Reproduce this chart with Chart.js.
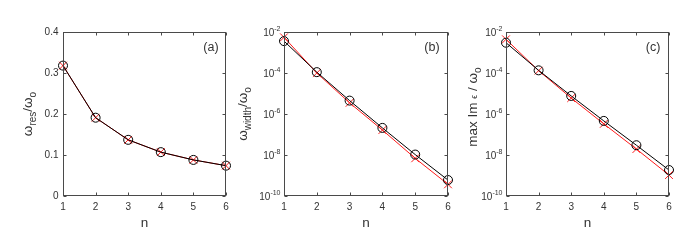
<!DOCTYPE html>
<html>
<head>
<meta charset="utf-8">
<script src="https://cdn.jsdelivr.net/npm/chart.js@4"></script>
<style>
  body { margin: 0; background: #fff; }
  #wrap { position: relative; width: 698px; height: 244px; background: #fff; }
  canvas { position: absolute; top: 0; }
</style>
</head>
<body>
<div id="wrap">
  <canvas id="ca" width="232" height="244" style="left:0px"></canvas>
  <canvas id="cb" width="222" height="244" style="left:232px"></canvas>
  <canvas id="cc" width="244" height="244" style="left:454px"></canvas>
</div>
<script>
// data
const nValues = [1, 2, 3, 4, 5, 6];
const resBlack = [0.318, 0.191, 0.137, 0.107, 0.088, 0.074];
const resRed = [0.318, 0.191, 0.137, 0.107, 0.088, 0.074];
const widthBlack = [3.6e-3, 1.1e-4, 4.5e-6, 2.1e-7, 1.05e-8, 6.0e-10];
const widthRed = [5.5e-3, 1.0e-4, 3.5e-6, 1.65e-7, 6.9e-9, 3.7e-10];
const imBlack = [3.0e-3, 1.35e-4, 7.6e-6, 4.6e-7, 3.0e-8, 1.85e-9];
const imRed = [4.4e-3, 1.3e-4, 6.0e-6, 3.3e-7, 1.95e-8, 1.05e-9];

// ticks
const xTicks = [1, 2, 3, 4, 5, 6];
const linTicks = [0, 0.1, 0.2, 0.3, 0.4];
const linTickLabels = ['0', '0.1', '0.2', '0.3', '0.4'];
const logTicks = [1e-10, 1e-8, 1e-6, 1e-4, 1e-2];
const logTickExps = ['-10', '-8', '-6', '-4', '-2'];

const FONT = "'Liberation Sans', Arial, sans-serif";
const TXT = '#333';

function font(sz) { return sz + 'px ' + FONT; }

// draws a run of [text, size, dy] pieces starting at x (baseline y)
function drawRun(ctx, pieces, x, y) {
  pieces.forEach(p => {
    ctx.font = font(p[1]);
    ctx.fillText(p[0], x, y + (p[2] || 0));
    x += ctx.measureText(p[0]).width;
  });
}
function runWidth(ctx, pieces) {
  let w = 0;
  pieces.forEach(p => { ctx.font = font(p[1]); w += ctx.measureText(p[0]).width; });
  return w;
}

const frame = {
  id: 'frame',
  afterDraw(chart, args, o) {
    const { ctx, chartArea: a, scales: { x, y } } = chart;
    const L = Math.round(a.left) + 0.5, R = Math.round(a.right) - 0.5;
    const T = Math.round(a.top) + 0.5, B = Math.round(a.bottom) - 0.5;
    ctx.save();
    ctx.strokeStyle = '#4a4a4a';
    ctx.lineWidth = 1;
    ctx.strokeRect(L, T, R - L, B - T);
    ctx.beginPath();
    xTicks.forEach(v => {
      const px = Math.round(x.getPixelForValue(v)) + 0.5;
      ctx.moveTo(px, B); ctx.lineTo(px, B - 3);
      ctx.moveTo(px, T); ctx.lineTo(px, T + 3);
    });
    const yt = o.log ? logTicks : linTicks;
    yt.forEach(v => {
      const py = Math.round(y.getPixelForValue(v)) + 0.5;
      ctx.moveTo(L, py); ctx.lineTo(L + 3, py);
      ctx.moveTo(R, py); ctx.lineTo(R - 3, py);
    });
    ctx.stroke();

    ctx.fillStyle = TXT;
    // x tick labels
    ctx.font = font(10);
    ctx.textAlign = 'center';
    ctx.textBaseline = 'middle';
    xTicks.forEach(v => ctx.fillText(String(v), x.getPixelForValue(v), B + 12));
    // y tick labels
    if (o.log) {
      ctx.textAlign = 'left';
      ctx.textBaseline = 'alphabetic';
      logTicks.forEach((v, i) => {
        const pieces = [['10', 10, 0], [logTickExps[i], 7, -5]];
        const w = runWidth(ctx, pieces);
        drawRun(ctx, pieces, L - 4 - w, y.getPixelForValue(v) + 4);
      });
    } else {
      ctx.textAlign = 'right';
      linTicks.forEach((v, i) => ctx.fillText(linTickLabels[i], L - 5, y.getPixelForValue(v)));
    }
    // x title
    ctx.font = font(13.5);
    ctx.textAlign = 'center';
    ctx.textBaseline = 'alphabetic';
    ctx.fillText('n', (L + R) / 2, 227);
    // panel label
    ctx.font = font(12.5);
    ctx.fillText(o.tag, o.tagX, 51);
    // y title, rotated
    ctx.translate(o.titleX, o.titleY);
    ctx.rotate(-Math.PI / 2);
    ctx.textAlign = 'left';
    const w = runWidth(ctx, o.title);
    drawRun(ctx, o.title, -w / 2, 0);
    ctx.restore();
  }
};

function makePanel(id, black, red, yOpts, left, right, fr) {
  new Chart(document.getElementById(id), {
    type: 'line',
    data: {
      datasets: [
        {
          data: nValues.map((n, i) => ({ x: n, y: black[i] })),
          borderColor: '#000', borderWidth: 1,
          pointStyle: 'circle', pointRadius: 4.5, pointBorderColor: '#000',
          pointBackgroundColor: 'rgba(0,0,0,0)', pointBorderWidth: 1, tension: 0, clip: false
        },
        {
          data: nValues.map((n, i) => ({ x: n, y: red[i] })),
          borderColor: '#ff1a1a', borderWidth: 1,
          pointStyle: 'crossRot', pointRadius: 5.5, pointBorderColor: '#ff1a1a',
          pointBorderWidth: 1, tension: 0, clip: false
        }
      ]
    },
    options: {
      responsive: false,
      animation: false,
      layout: { padding: { top: 32, bottom: 0, left: 0, right: right }, autoPadding: false },
      plugins: { legend: { display: false }, tooltip: { enabled: false }, frame: fr },
      scales: {
        x: {
          type: 'linear', min: 1, max: 6,
          ticks: { display: false }, grid: { display: false }, border: { display: false },
          afterFit: s => { s.height = 48; }
        },
        y: Object.assign({
          ticks: { display: false }, grid: { display: false }, border: { display: false },
          afterFit: s => { s.width = left; }
        }, yOpts)
      }
    },
    plugins: [frame]
  });
}

makePanel('ca', resBlack, resRed, { type: 'linear', min: 0, max: 0.4 }, 63, 6, {
  log: false, tag: '(a)', tagX: 211, titleX: 32, titleY: 114,
  title: [['ω', 13.5, 0], ['res', 10, 4], ['/ω', 13.5, 0], ['o', 10, 4]]
});
makePanel('cb', widthBlack, widthRed, { type: 'logarithmic', min: 1e-10, max: 1e-2 }, 52, 6, {
  log: true, tag: '(b)', tagX: 200, titleX: 15, titleY: 114,
  title: [['ω', 13.5, 0], ['width', 10, 4], ['/ω', 13.5, 0], ['o', 10, 4]]
});
makePanel('cc', imBlack, imRed, { type: 'logarithmic', min: 1e-10, max: 1e-2 }, 52, 29, {
  log: true, tag: '(c)', tagX: 199, titleX: 23, titleY: 107,
  title: [['max Im ', 13.5, 0], ['ϵ', 9, 0], [' / ω', 13.5, 0], ['o', 10, 4]]
});
</script>
</body>
</html>
